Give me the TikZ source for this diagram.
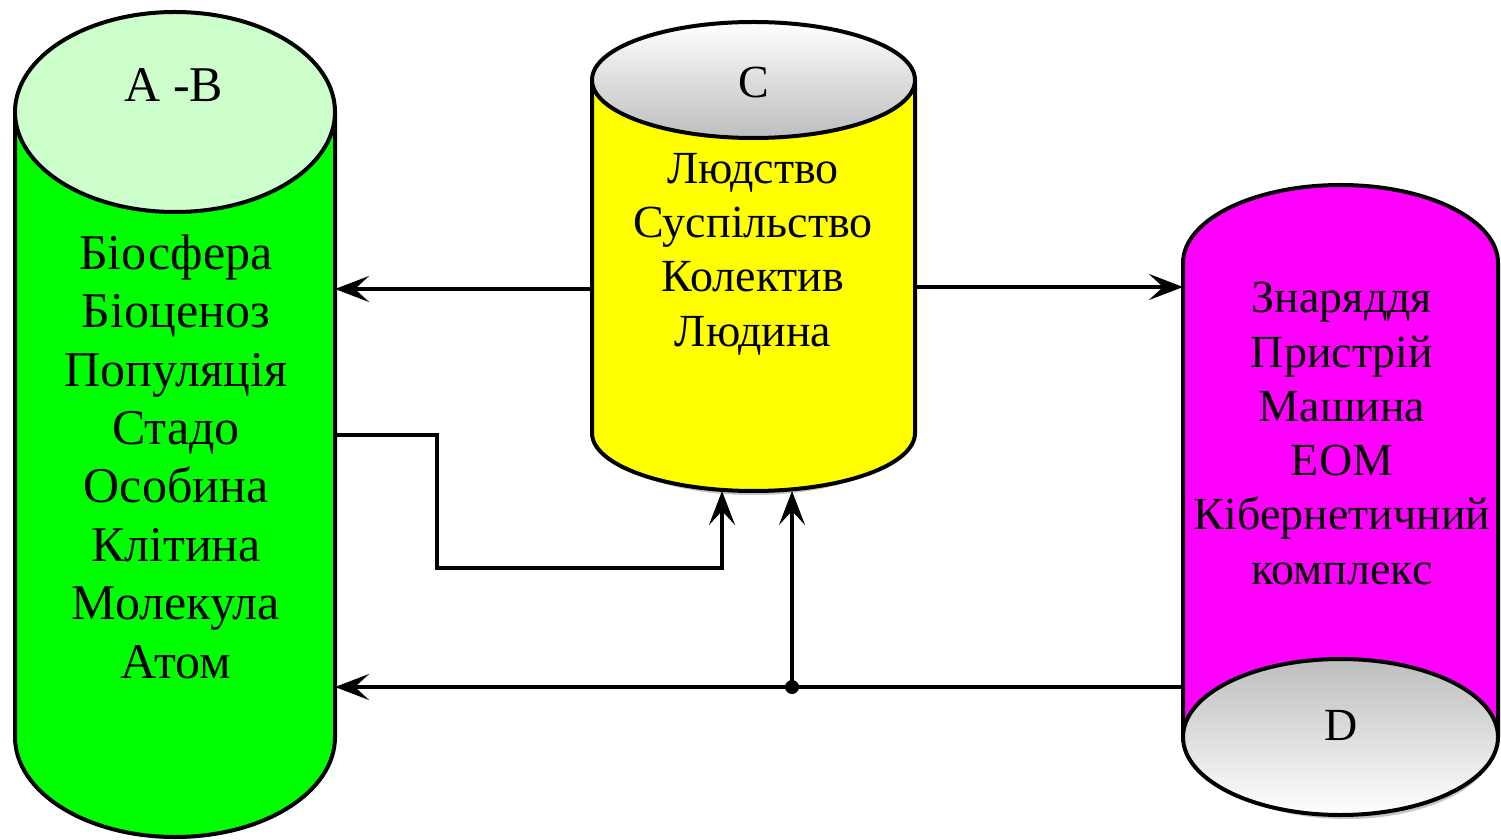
\documentclass[tikz,border=0pt]{standalone}
\usepackage{fontspec}
\setmainfont{Liberation Serif}
\usetikzlibrary{arrows.meta}
\definecolor{cylgreen}{HTML}{00FF00}
\definecolor{capgreen}{HTML}{CCFFCC}
\definecolor{cylyellow}{HTML}{FFFF00}
\definecolor{cylmag}{HTML}{FF00FF}
\definecolor{capgrey}{HTML}{BDBDBD}
\definecolor{shadowgrey}{HTML}{C4C4C4}
\begin{document}
\begin{tikzpicture}[x=1pt,y=1pt,
  outline/.style={draw=black,line width=4pt,line join=round},
  conn/.style={draw=black,line width=3.5pt},
  arr/.style={conn,-{Stealth[length=34pt,width=26pt,inset=14pt]}},
  txt/.style={font=\fontsize{50}{58.4}\selectfont,align=center,inner sep=0pt},
  txtb/.style={font=\fontsize{46}{54.3}\selectfont,align=center,inner sep=0pt},
  lbl/.style={font=\fontsize{46}{55}\selectfont,inner sep=0pt,anchor=base},
  lblbig/.style={lbl,font=\fontsize{50}{55}\selectfont},
  area/.style={inner sep=0pt,outer sep=0pt,draw=none}]
\useasboundingbox (0,0) rectangle (1501,839);
% shadows
\fill[shadowgrey] (30,300) -- (30,96) arc[start angle=180,end angle=360,x radius=145,y radius=96] -- (320,300) -- cycle;
\fill[shadowgrey] (605,450) -- (605,400) arc[start angle=180,end angle=360,x radius=148,y radius=56] -- (901,450) -- cycle;
\fill[shadowgrey] (1346,94) ellipse[x radius=148,y radius=74];
% left cylinder A-B
\draw[outline,fill=cylgreen] (15,727) -- (15,102) arc[start angle=180,end angle=360,x radius=160,y radius=100] -- (335,727) -- cycle;
\draw[outline,fill=capgreen] (175,727) ellipse[x radius=160,y radius=100];
% middle cylinder C
\draw[outline,fill=cylyellow] (592,759) -- (592,406) arc[start angle=180,end angle=360,x radius=161.5,y radius=58] -- (915,759) -- cycle;
\draw[outline,top color=white,bottom color=capgrey] (753.5,759) ellipse[x radius=161.5,y radius=58];
% right cylinder D
\draw[outline,fill=cylmag] (1183,102) -- (1183,576) arc[start angle=180,end angle=0,x radius=157.5,y radius=78] -- (1498,102) -- cycle;
\draw[outline,top color=capgrey,bottom color=white] (1340.5,102) ellipse[x radius=157.5,y radius=78];
% areas for connectors
\node[area,minimum width=320pt,minimum height=825pt] (AB) at (175,414.5) {};
\node[area,minimum width=323pt,minimum height=469pt] (C) at (753.5,582.5) {};
\node[area,minimum width=315pt,minimum height=630pt] (D) at (1340.5,339) {};
% labels
\node[lblbig] (ABl) at (174,737) {A -B};
\node[lbl] (Cl) at (753.5,741) {C};
\node[lbl] (Dl) at (1341,99) {D};
% texts
\node[txt] (ABt) at (176,382.5) {Біосфера\\Біоценоз\\Популяція\\Стадо\\Особина\\Клітина\\Молекула\\Атом};
\node[txtb] (Ct) at (753,585) {Людство\\Суспільство\\Колектив\\Людина};
\node[txtb] (Dt) at (1342,405.5) {Знаряддя\\Пристрій\\Машина\\ЕОМ\\Кібернетичний\\комплекс};
% connectors
\coordinate (J) at (792,152);
\draw[arr] (C.west |- 0,550) -- (AB.east |- 0,550);
\draw[arr] (C.east |- 0,552) -- (D.west |- 0,552);
\draw[arr] (AB.east |- 0,404) -| (437,271) -| (C.south -| 722,0);
\draw[arr] (D.west |- J) -- (AB.east |- J);
\draw[arr] (J) -- (C.south -| J);
\fill (J) circle (7pt);
\end{tikzpicture}
\end{document}
